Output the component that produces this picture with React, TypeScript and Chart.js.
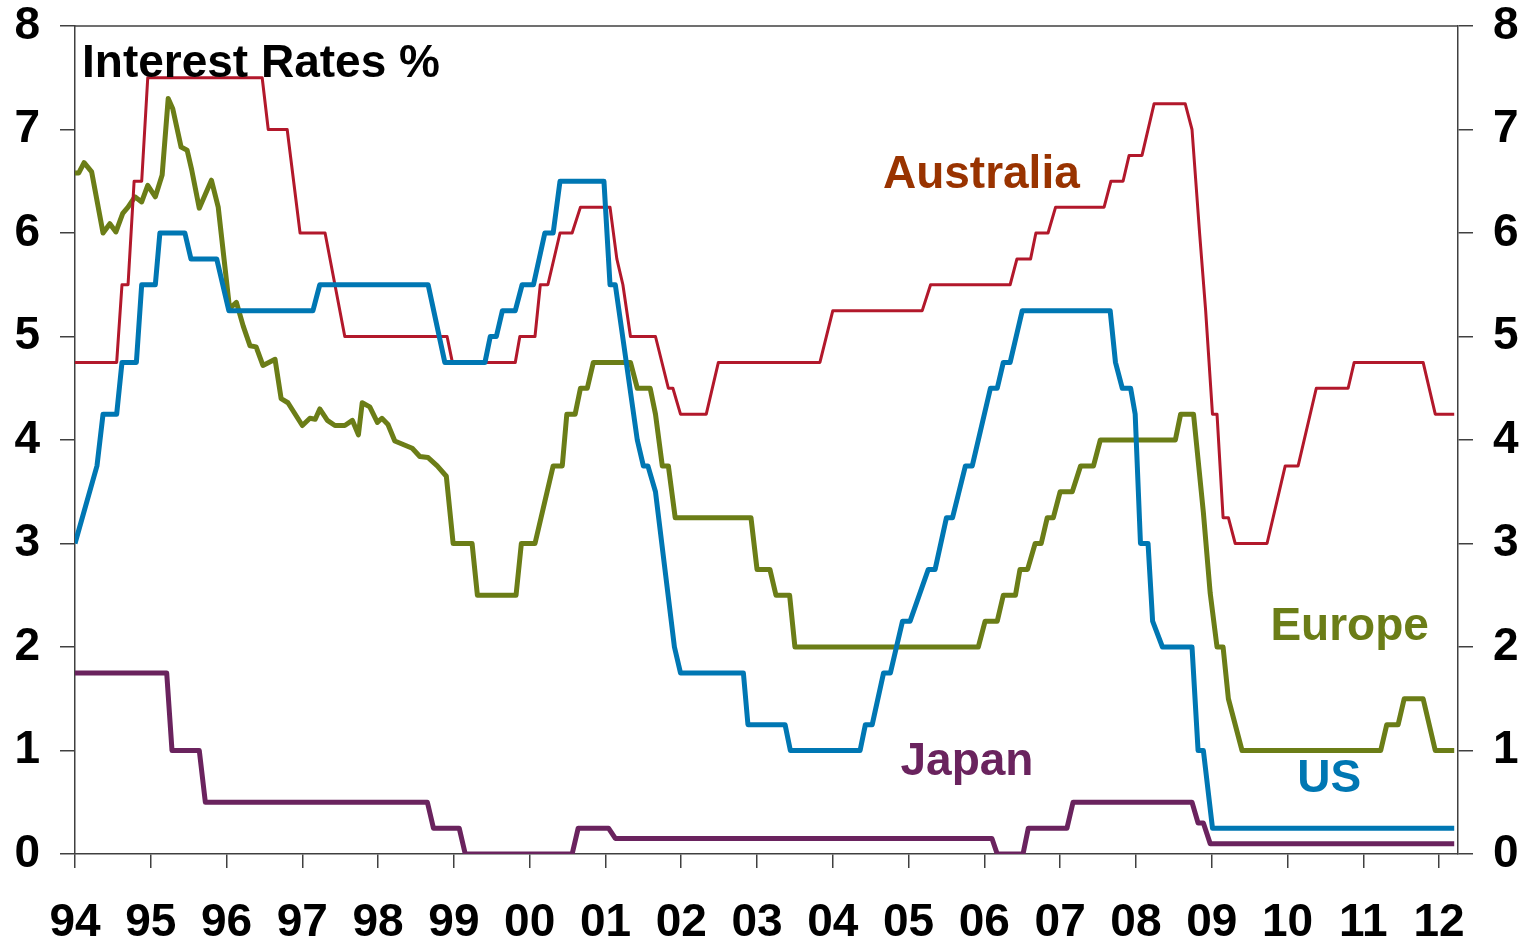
import React, { useEffect, useRef } from "react";
import { Chart, registerables } from "chart.js";

Chart.register(...registerables);

const FONT = "Arial, 'Liberation Sans', Helvetica, sans-serif";

// ---- Data (decimal years, % rates) ----
const ausYears = [1994.0, 1994.55, 1994.62, 1994.7, 1994.78, 1994.88, 1994.96, 1996.47, 1996.55, 1996.8, 1996.97, 1997.3, 1997.56, 1998.91, 1998.98, 1999.81, 1999.87, 2000.07, 2000.14, 2000.24, 2000.4, 2000.56, 2000.67, 2001.06, 2001.15, 2001.23, 2001.33, 2001.66, 2001.83, 2001.89, 2001.99, 2002.33, 2002.49, 2003.83, 2004.0, 2005.18, 2005.29, 2006.34, 2006.43, 2006.61, 2006.68, 2006.84, 2006.94, 2007.58, 2007.67, 2007.83, 2007.91, 2008.08, 2008.24, 2008.65, 2008.74, 2008.84, 2008.92, 2009.01, 2009.07, 2009.15, 2009.22, 2009.31, 2009.73, 2009.97, 2010.14, 2010.38, 2010.8, 2010.88, 2011.79, 2011.95, 2012.2];
const ausRates = [4.75, 4.75, 5.5, 5.5, 6.5, 6.5, 7.5, 7.5, 7.0, 7.0, 6.0, 6.0, 5.0, 5.0, 4.75, 4.75, 5.0, 5.0, 5.5, 5.5, 6.0, 6.0, 6.25, 6.25, 5.75, 5.5, 5.0, 5.0, 4.5, 4.5, 4.25, 4.25, 4.75, 4.75, 5.25, 5.25, 5.5, 5.5, 5.75, 5.75, 6.0, 6.0, 6.25, 6.25, 6.5, 6.5, 6.75, 6.75, 7.25, 7.25, 7.0, 6.0, 5.25, 4.25, 4.25, 3.25, 3.25, 3.0, 3.0, 3.75, 3.75, 4.5, 4.5, 4.75, 4.75, 4.25, 4.25];

const usYears = [1994.0, 1994.29, 1994.37, 1994.55, 1994.62, 1994.81, 1994.88, 1995.06, 1995.12, 1995.45, 1995.53, 1995.87, 1996.03, 1997.14, 1997.23, 1998.66, 1998.88, 1999.41, 1999.48, 1999.56, 1999.64, 1999.81, 1999.9, 2000.05, 2000.2, 2000.31, 2000.4, 2000.98, 2001.06, 2001.13, 2001.42, 2001.5, 2001.56, 2001.66, 2001.91, 2001.99, 2002.82, 2002.88, 2003.37, 2003.44, 2004.36, 2004.43, 2004.52, 2004.67, 2004.76, 2004.92, 2005.02, 2005.26, 2005.35, 2005.5, 2005.58, 2005.75, 2005.84, 2006.08, 2006.17, 2006.25, 2006.34, 2006.5, 2007.66, 2007.73, 2007.82, 2007.93, 2007.99, 2008.06, 2008.16, 2008.22, 2008.35, 2008.74, 2008.82, 2008.89, 2009.01, 2012.2];
const usRates = [3.0, 3.75, 4.25, 4.25, 4.75, 4.75, 5.5, 5.5, 6.0, 6.0, 5.75, 5.75, 5.25, 5.25, 5.5, 5.5, 4.75, 4.75, 5.0, 5.0, 5.25, 5.25, 5.5, 5.5, 6.0, 6.0, 6.5, 6.5, 5.5, 5.5, 4.0, 3.75, 3.75, 3.5, 2.0, 1.75, 1.75, 1.25, 1.25, 1.0, 1.0, 1.25, 1.25, 1.75, 1.75, 2.25, 2.25, 2.75, 2.75, 3.25, 3.25, 3.75, 3.75, 4.5, 4.5, 4.75, 4.75, 5.25, 5.25, 4.75, 4.5, 4.5, 4.25, 3.0, 3.0, 2.25, 2.0, 2.0, 1.0, 1.0, 0.25, 0.25];

const euYears = [1994.0, 1994.05, 1994.12, 1994.22, 1994.37, 1994.46, 1994.54, 1994.63, 1994.7, 1994.79, 1994.88, 1994.96, 1995.06, 1995.15, 1995.23, 1995.29, 1995.4, 1995.48, 1995.54, 1995.64, 1995.8, 1995.89, 1996.04, 1996.13, 1996.22, 1996.31, 1996.39, 1996.48, 1996.64, 1996.72, 1996.81, 1997.0, 1997.1, 1997.17, 1997.23, 1997.33, 1997.43, 1997.56, 1997.66, 1997.74, 1997.79, 1997.89, 1997.99, 1998.05, 1998.13, 1998.22, 1998.45, 1998.55, 1998.66, 1998.78, 1998.9, 1998.99, 1999.24, 1999.31, 1999.82, 1999.89, 2000.07, 2000.31, 2000.43, 2000.49, 2000.6, 2000.67, 2000.76, 2000.84, 2001.33, 2001.42, 2001.59, 2001.66, 2001.75, 2001.83, 2001.92, 2002.92, 2003.0, 2003.17, 2003.25, 2003.43, 2003.5, 2005.92, 2006.01, 2006.17, 2006.25, 2006.41, 2006.47, 2006.57, 2006.67, 2006.75, 2006.83, 2006.91, 2007.0, 2007.16, 2007.27, 2007.44, 2007.53, 2008.52, 2008.59, 2008.76, 2008.89, 2008.98, 2009.07, 2009.15, 2009.22, 2009.4, 2011.23, 2011.31, 2011.46, 2011.54, 2011.79, 2011.95, 2012.2];
const euRates = [6.58, 6.58, 6.68, 6.59, 6.0, 6.09, 6.01, 6.19, 6.25, 6.35, 6.3, 6.46, 6.35, 6.56, 7.3, 7.2, 6.83, 6.8, 6.61, 6.24, 6.51, 6.25, 5.27, 5.33, 5.1, 4.91, 4.9, 4.72, 4.78, 4.4, 4.36, 4.14, 4.21, 4.2, 4.3, 4.19, 4.14, 4.14, 4.19, 4.05, 4.36, 4.32, 4.17, 4.21, 4.15, 3.99, 3.92, 3.84, 3.83, 3.75, 3.65, 3.0, 3.0, 2.5, 2.5, 3.0, 3.0, 3.75, 3.75, 4.25, 4.25, 4.5, 4.5, 4.75, 4.75, 4.5, 4.5, 4.25, 3.75, 3.75, 3.25, 3.25, 2.75, 2.75, 2.5, 2.5, 2.0, 2.0, 2.25, 2.25, 2.5, 2.5, 2.75, 2.75, 3.0, 3.0, 3.25, 3.25, 3.5, 3.5, 3.75, 3.75, 4.0, 4.0, 4.25, 4.25, 3.3, 2.52, 2.0, 2.0, 1.5, 1.0, 1.0, 1.25, 1.25, 1.5, 1.5, 1.0, 1.0];

const jpYears = [1994.0, 1995.21, 1995.28, 1995.64, 1995.72, 1998.65, 1998.73, 1999.07, 1999.15, 2000.56, 2000.64, 2001.04, 2001.13, 2006.1, 2006.17, 2006.51, 2006.58, 2007.09, 2007.17, 2008.74, 2008.82, 2008.89, 2008.98, 2012.2];
const jpRates = [1.75, 1.75, 1.0, 1.0, 0.5, 0.5, 0.25, 0.25, 0.0, 0.0, 0.25, 0.25, 0.15, 0.15, 0.0, 0.0, 0.25, 0.25, 0.5, 0.5, 0.3, 0.3, 0.1, 0.1];

const yTicks = [0, 1, 2, 3, 4, 5, 6, 7, 8];
const xMin = 1994;
const xMax = 2012.25;

const seriesLabels = [
  { text: "Australia", color: "#993300", x: 2005.96, y: 6.43 },
  { text: "Europe", color: "#6B7D17", x: 2010.82, y: 2.07 },
  { text: "Japan", color: "#6A235E", x: 2005.77, y: 0.76 },
  { text: "US", color: "#0077B3", x: 2010.55, y: 0.6 },
];
const chartTitle = "Interest Rates %";

const pts = (xs: number[], ys: number[]) => xs.map((x, i) => ({ x, y: ys[i] }));

export default function App() {
  const ref = useRef<HTMLCanvasElement | null>(null);

  useEffect(() => {
    if (!ref.current) return;
    const AXIS = "#404040";
    const tickFont = { family: FONT, size: 46, weight: "bold" as const };

    const overlay = {
      id: "overlay",
      afterDraw(chart: any) {
        const { ctx, chartArea } = chart;
        const xs = chart.scales.x;
        const ys = chart.scales.y;
        ctx.save();
        // top frame line
        ctx.strokeStyle = AXIS;
        ctx.lineWidth = 1.5;
        ctx.beginPath();
        ctx.moveTo(chartArea.left, chartArea.top);
        ctx.lineTo(chartArea.right, chartArea.top);
        ctx.stroke();
        // title
        ctx.font = `bold 46px ${FONT}`;
        ctx.fillStyle = "#000";
        ctx.textAlign = "left";
        ctx.textBaseline = "alphabetic";
        ctx.fillText(chartTitle, chartArea.left + 7, chartArea.top + 51);
        // series labels
        ctx.textAlign = "center";
        for (const l of seriesLabels) {
          ctx.fillStyle = l.color;
          ctx.fillText(l.text, xs.getPixelForValue(l.x), ys.getPixelForValue(l.y));
        }
        ctx.restore();
      },
    };

    const yAxisCommon = {
      min: 0,
      max: 8,
      afterBuildTicks(s: any) {
        s.ticks = yTicks.map((v) => ({ value: v }));
      },
      ticks: { color: "#000", font: tickFont, padding: 20 },
      grid: { drawOnChartArea: false, drawTicks: true, tickLength: 15, color: AXIS, lineWidth: 1.5 },
      border: { display: true, color: AXIS, width: 1.5 },
    };

    const chart = new Chart(ref.current, {
      type: "line",
      data: {
        datasets: [
          { label: "US", data: pts(usYears, usRates), borderColor: "#0077B3", borderWidth: 5 },
          { label: "Australia", data: pts(ausYears, ausRates), borderColor: "#B2182B", borderWidth: 3 },
          { label: "Europe", data: pts(euYears, euRates), borderColor: "#6B7D17", borderWidth: 5 },
          { label: "Japan", data: pts(jpYears, jpRates), borderColor: "#6A235E", borderWidth: 5 },
        ] as any,
      },
      options: {
        responsive: false,
        animation: false,
        events: [],
        layout: { padding: { top: 26, left: 0, right: 0, bottom: 0 } },
        elements: {
          point: { radius: 0 },
          line: { tension: 0, fill: false, borderJoinStyle: "round", borderCapStyle: "butt" },
        },
        plugins: { legend: { display: false }, tooltip: { enabled: false }, title: { display: false } },
        scales: {
          x: {
            type: "linear",
            position: "bottom",
            min: xMin,
            max: xMax,
            afterFit(s: any) {
              s.height = 87;
              s.paddingLeft = 0;
              s.paddingRight = 0;
            },
            ticks: {
              stepSize: 1,
              includeBounds: false,
              autoSkip: false,
              maxRotation: 0,
              minRotation: 0,
              color: "#000",
              font: tickFont,
              padding: 28,
              callback: (v: any) => String(Math.round(Number(v)) % 100).padStart(2, "0"),
            },
            grid: { drawOnChartArea: false, drawTicks: true, tickLength: 14, color: AXIS, lineWidth: 1.5 },
            border: { display: true, color: AXIS, width: 1.5 },
          },
          y: {
            ...yAxisCommon,
            position: "left",
            afterFit(s: any) {
              s.width = 75;
              s.paddingTop = 0;
              s.paddingBottom = 0;
            },
          },
          y2: {
            ...yAxisCommon,
            position: "right",
            afterFit(s: any) {
              s.width = 72;
              s.paddingTop = 0;
              s.paddingBottom = 0;
            },
          },
        } as any,
      },
      plugins: [overlay],
    });
    return () => chart.destroy();
  }, []);

  return (
    <div style={{ position: "fixed", left: 0, top: 0, width: 1530, height: 941, background: "#fff", overflow: "hidden" }}>
      <canvas ref={ref} width={1530} height={941} style={{ display: "block", width: 1530, height: 941 }} />
    </div>
  );
}
